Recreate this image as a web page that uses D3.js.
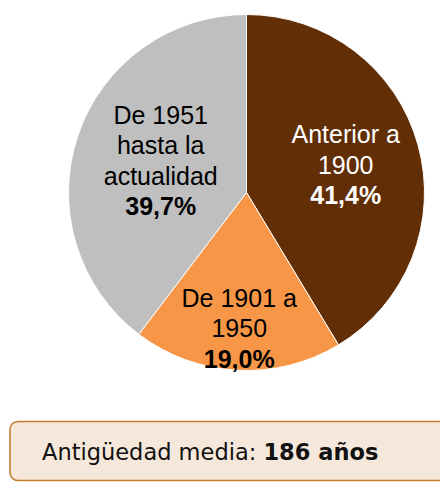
<!DOCTYPE html>
<html><head><meta charset="utf-8">
<script src="https://cdn.jsdelivr.net/npm/d3@7"></script>
<style>html,body{margin:0;padding:0;background:#fff;}</style>
</head><body>
<script>
const categories = ["Anterior a 1900", "De 1901 a 1950", "De 1951 hasta la actualidad"];
const labelLines = [["Anterior a", "1900"], ["De 1901 a", "1950"], ["De 1951", "hasta la", "actualidad"]];
const values = [41.4, 19.0, 39.7];
const valueLabels = ["41,4%", "19,0%", "39,7%"];
const colors = ["#622E05", "#F79646", "#BFBFBF"];
const textColors = ["#ffffff", "#000000", "#000000"];
const summaryLabel = "Antigüedad media: ";
const summaryValue = "186 años";

const W = 440, H = 482;
const svg = d3.select("body").append("svg").attr("width", W).attr("height", H);
const cx = 246.5, cy = 192.5, R = 178;

const pie = d3.pie().sort(null).value(d => d)(values);
const arc = d3.arc().innerRadius(0).outerRadius(R);
const g = svg.append("g").attr("transform", `translate(${cx},${cy})`);
g.selectAll("path").data(pie).join("path")
  .attr("d", arc).attr("fill", (d, i) => colors[i])
  .attr("stroke", "#fff").attr("stroke-width", 1);

// label radii (best-fit like placement)
const labelR = [103, 136, 100];
const lineH = 30.5;
const fs = 25;
pie.forEach((d, i) => {
  const a = (d.startAngle + d.endAngle) / 2;
  let x = Math.sin(a) * labelR[i], y = -Math.cos(a) * labelR[i];
  if (i === 2) x += 9;
  const lines = labelLines[i].map(t => ({t, bold: false})).concat([{t: valueLabels[i], bold: true}]);
  const n = lines.length;
  const t = g.append("text").attr("text-anchor", "middle")
    .attr("font-family", "Liberation Sans, Arial, sans-serif")
    .attr("font-size", fs).attr("fill", textColors[i]);
  lines.forEach((l, k) => {
    t.append("tspan").attr("x", x)
      .attr("y", y + (k - (n - 1) / 2) * lineH + fs * 0.36)
      .attr("font-weight", l.bold ? "bold" : "normal")
      .text(l.t);
  });
});

// summary box
svg.append("rect").attr("x", 10).attr("y", 421.5).attr("width", 440).attr("height", 59)
  .attr("rx", 8).attr("fill", "#F5E8DB").attr("stroke", "#C27B2C").attr("stroke-width", 1.5);
const st = svg.append("text").attr("x", 42).attr("y", 460)
  .attr("font-family", "DejaVu Sans, Verdana, sans-serif").attr("font-size", 22.5).attr("fill", "#111");
st.append("tspan").text(summaryLabel);
st.append("tspan").attr("font-weight", "bold").text(summaryValue);
</script>
</body></html>
